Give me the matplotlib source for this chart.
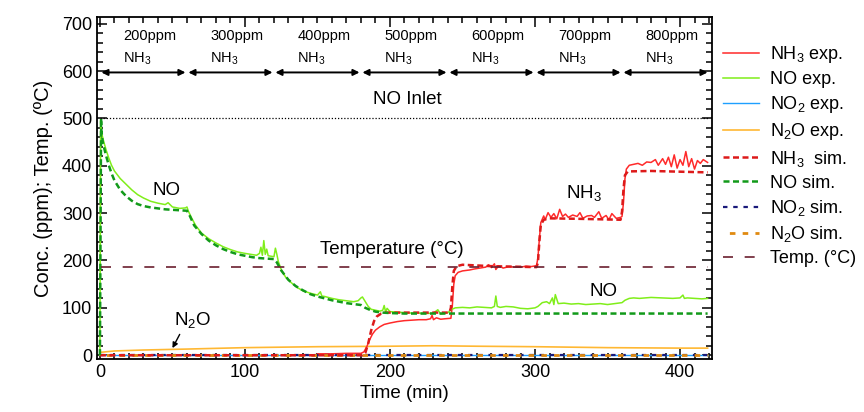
import matplotlib
matplotlib.use("Agg")
import matplotlib.pyplot as plt
from matplotlib.ticker import MultipleLocator

plt.rcParams["font.family"] = ["Liberation Sans", "DejaVu Sans"]
plt.rcParams["mathtext.fontset"] = "custom"
plt.rcParams["mathtext.rm"] = "Liberation Sans"
plt.rcParams["mathtext.it"] = "Liberation Sans:italic"
plt.rcParams["mathtext.bf"] = "Liberation Sans:bold"

# NH3 feed steps (min) and concentration of each step (ppm)
step_times = [0, 60, 120, 180, 240, 300, 360, 420]
nh3_levels = [200, 300, 400, 500, 600, 700, 800]
no_inlet = 500
temperature = 186

# --- measured outlet concentrations ---
no_exp_t = [0, 0.5, 1, 2, 4, 6, 8, 10, 14, 18, 22, 26, 30, 35, 40, 45, 47, 50, 55, 59, 60,
            61, 63, 66, 70, 75, 80, 85, 90, 95, 100, 104, 108, 110, 111, 112, 113, 114, 115,
            116, 118, 120, 121, 122, 123, 125, 128, 132, 136, 140, 145, 150, 152, 153, 155,
            160, 165, 170, 175, 178, 180, 181, 183, 185, 187, 190, 193, 195, 196, 197, 198,
            200, 205, 210, 215, 220, 225, 230, 233, 235, 238, 240, 242, 245, 250, 255, 260,
            265, 270, 272, 273, 274, 276, 280, 285, 290, 295, 300, 302, 305, 308, 310, 312,
            313, 314, 316, 320, 325, 330, 335, 340, 345, 350, 355, 360, 362, 365, 368, 372,
            380, 388, 395, 400, 402, 403, 405, 410, 415, 419]
no_exp = [0, 497, 472, 458, 436, 417, 401, 389, 373, 361, 349, 339, 332, 325, 321, 318, 322, 313, 310, 311, 313,
          304, 291, 274, 258, 246, 237, 229, 223, 218, 215, 213, 211, 215, 228, 211, 242, 213, 224,
          210, 209, 208, 226, 213, 198, 181, 165, 153, 143, 136, 131, 127, 134, 125, 124,
          120, 117, 115, 113, 115, 121, 123, 113, 103, 97, 95, 93, 95, 105, 91, 99,
          92, 91, 90, 89, 89, 88, 89, 96, 87, 89, 90, 96, 100, 101, 100, 102,
          101, 100, 103, 125, 103, 101, 103, 102, 99, 98, 100, 103, 111, 113, 109, 121,
          107, 128, 109, 110, 108, 109, 107, 108, 109, 107, 109, 111, 116, 120, 121, 120,
          122, 121, 120, 121, 127, 120, 121, 120, 119, 120]

nh3_exp_t = [150, 160, 170, 180, 182, 184, 186, 188, 190, 193, 196, 200, 205, 210, 215, 220,
             225, 228, 229, 230, 232, 235, 238, 242, 243, 244, 245, 247, 250, 255, 258, 262,
             266, 268, 270, 272, 273, 275, 278, 282, 286, 290, 294, 297, 301, 302, 303, 304,
             306, 307, 309, 311, 313, 315, 317, 319, 321, 323, 326, 329, 331, 333, 336, 339,
             341, 344, 346, 349, 351, 353, 356, 359, 360, 361, 362, 363, 365, 368, 371, 374,
             377, 380, 383, 385, 388, 390, 392, 394, 396, 398, 400, 402, 404, 406, 408, 410,
             412, 414, 416, 419]
nh3_exp = [3, 3, 4, 4, 7, 18, 33, 45, 53, 60, 65, 68, 71, 73, 74, 75,
           75, 77, 84, 75, 79, 76, 77, 78, 105, 150, 168, 175, 178, 180, 182, 184,
           186, 191, 185, 193, 181, 189, 184, 187, 186, 186, 188, 187, 189, 205, 245, 280,
           294, 286, 301, 291, 299, 288, 308, 293, 298, 291, 296, 293, 301, 289, 294, 295,
           291, 303, 289, 295, 286, 299, 289, 291, 293, 322, 372, 393, 401, 403, 405, 401,
           408, 407, 413, 401, 415, 403, 418, 398, 423, 395, 413, 401, 430, 398, 415, 393,
           411, 405, 413, 407]

n2o_exp_t = [0, 10, 30, 60, 100, 150, 200, 230, 260, 300, 350, 400, 419]
n2o_exp = [6, 9, 11, 13, 16, 18, 19, 20, 19, 18, 16, 15, 15]

no2_exp_t = [0, 100, 200, 300, 419]
no2_exp = [1, 1, 1, 1, 1]

# --- simulated outlet concentrations ---
no_sim_t = [0, 0.8, 1, 2, 4, 6, 8, 10, 14, 18, 22, 26, 30, 35, 40, 45, 50, 55, 60, 62, 65,
            70, 75, 80, 85, 90, 95, 100, 105, 110, 115, 120, 122, 125, 130, 135, 140, 145,
            150, 155, 160, 165, 170, 175, 180, 183, 186, 190, 195, 200, 210, 419]
no_sim = [0, 500, 474, 449, 424, 402, 384, 369, 349, 336, 326, 319, 315, 312, 310, 308, 307, 306, 305, 294, 274,
          256, 242, 232, 224, 218, 213, 210, 207, 205, 204, 203, 196, 179, 159, 146, 137, 129,
          124, 120, 116, 113, 110, 108, 106, 100, 96, 92, 90, 89, 88, 88]

nh3_sim_t = [0, 181, 183, 185, 187, 189, 191, 194, 197, 200, 241, 242, 243, 244, 246, 250,
             270, 301, 302, 303, 304, 306, 310, 330, 359, 360, 361, 362, 364, 380, 419]
nh3_sim = [0, 0, 5, 25, 52, 72, 82, 88, 90, 90, 90, 100, 145, 178, 188, 191,
           188, 186, 195, 240, 275, 286, 289, 288, 286, 303, 350, 380, 388, 389, 386]

n2o_sim_t = [0, 419]
n2o_sim = [1, 1]

no2_sim_t = [0, 419]
no2_sim = [0, 0]

temp_t = [0.5, 419]
temp_sim = [temperature, temperature]

fig = plt.figure(figsize=(8.64, 4.12), dpi=100)
ax = fig.add_axes([0.1123, 0.1286, 0.7117, 0.8301])

# experimental traces (solid)
ax.plot(no2_exp_t, no2_exp, color="#1e9fff", lw=1.0, label="NO$_2$ exp.")
ax.plot(n2o_exp_t, n2o_exp, color="#ffb833", lw=1.2, label="N$_2$O exp.")
ax.plot(nh3_exp_t, nh3_exp, color="#ff2a2a", lw=1.1, label="NH$_3$ exp.")
ax.plot(no_exp_t, no_exp, color="#80ee1a", lw=1.1, label="NO exp.")

# simulated traces (dashed)
ax.plot(no2_sim_t, no2_sim, color="#1a1a7a", lw=1.6, ls=(0, (2.0, 2.6)), label="NO$_2$ sim.")
ax.plot(n2o_sim_t, n2o_sim, color="#e08a10", lw=2.0, ls=(2.3, (2.0, 2.6)), label="N$_2$O sim.")
ax.plot(nh3_sim_t, nh3_sim, color="#dd1a1a", lw=1.8, ls=(0, (2.4, 1.4)), label="NH$_3$  sim.")
ax.plot(no_sim_t, no_sim, color="#129a1a", lw=1.8, ls=(0, (2.4, 1.4)), label="NO sim.")
ax.plot(temp_t, temp_sim, color="#6b1f2f", lw=1.2, ls=(0, (6, 7)), label="Temp. (°C)")

# NO inlet level
ax.plot([0, 419], [no_inlet, no_inlet], color="black", lw=0.9, ls=(0, (1, 1.5)))
ax.text(212, 540, "NO Inlet", fontsize=13.5, ha="center", va="center")

# NH3 feed steps along the top
for i, level in enumerate(nh3_levels):
    t0, t1 = step_times[i], step_times[i + 1]
    ax.annotate("", xy=(t1 - 1, 597), xytext=(t0 + 1, 597),
                arrowprops=dict(arrowstyle="<|-|>", color="black", lw=1.4,
                                mutation_scale=9, shrinkA=0, shrinkB=0))
    ax.text(t0 + 16, 673, f"{level}ppm", fontsize=10.5, ha="left", va="center")
    ax.text(t0 + 16, 626, "NH$_3$", fontsize=10.5, ha="left", va="center")

# curve labels
ax.text(46, 348, "NO", fontsize=13.5, ha="center", va="center")
ax.text(347, 135, "NO", fontsize=13.5, ha="center", va="center")
ax.text(334, 343, "NH$_3$", fontsize=13.5, ha="center", va="center")
ax.text(201, 224, "Temperature (°C)", fontsize=13.5, ha="center", va="center")
ax.text(64, 74, "N$_2$O", fontsize=13.5, ha="center", va="center")
ax.annotate("", xy=(50, 15), xytext=(55, 44),
            arrowprops=dict(arrowstyle="-|>", color="black", lw=1.0, mutation_scale=8,
                            shrinkA=0, shrinkB=0))

ax.set_xlim(-2, 422)
ax.set_ylim(-8, 714)
ax.xaxis.set_major_locator(MultipleLocator(100))
ax.xaxis.set_minor_locator(MultipleLocator(10))
ax.yaxis.set_major_locator(MultipleLocator(100))
ax.yaxis.set_minor_locator(MultipleLocator(20))
ax.tick_params(which="both", direction="in", top=True, right=True, labelsize=13, width=1.1)
ax.tick_params(which="major", length=7)
ax.tick_params(which="minor", length=4)
for s in ax.spines.values():
    s.set_linewidth(1.3)

ax.set_xlabel("Time (min)", fontsize=13.5, labelpad=3)
ax.set_ylabel("Conc. (ppm); Temp. (ºC)", fontsize=14.5, labelpad=6)

handles, labels = ax.get_legend_handles_labels()
order = ["NH$_3$ exp.", "NO exp.", "NO$_2$ exp.", "N$_2$O exp.", "NH$_3$  sim.",
         "NO sim.", "NO$_2$ sim.", "N$_2$O sim.", "Temp. (°C)"]
lookup = dict(zip(labels, handles))
fig.legend([lookup[k] for k in order], order, loc="upper left",
           bbox_to_anchor=(0.826, 0.915), frameon=False, fontsize=13,
           handlelength=2.0, handletextpad=0.6, labelspacing=0.34, borderpad=0)

fig.savefig("out.png", dpi=100)
